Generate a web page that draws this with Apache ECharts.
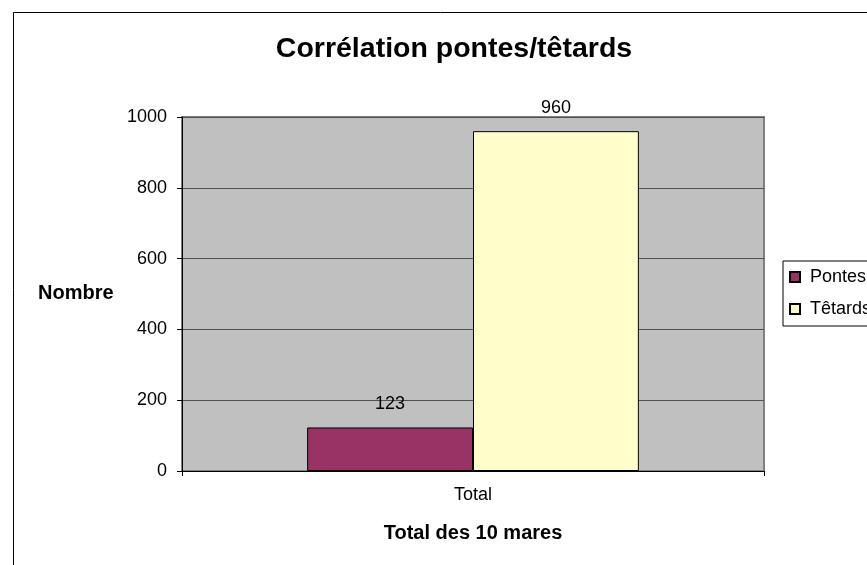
<!DOCTYPE html>
<html>
<head>
<meta charset="utf-8">
<script src="https://cdn.jsdelivr.net/npm/echarts@6/dist/echarts.min.js"></script>
<style>
html,body{margin:0;padding:0;background:#fff;}
#chart{width:867px;height:565px;}
</style>
</head>
<body>
<div id="chart"></div>
<script>
const categories = ['Total'];
const pontes = [123];
const tetards = [960];
const seriesNames = ['Pontes', 'Têtards'];
const yTicks = [0, 200, 400, 600, 800, 1000];

const FONT = "'Liberation Sans', Arial, sans-serif";
const chart = echarts.init(document.getElementById('chart'), null, {renderer: 'canvas'});
const option = {
  backgroundColor: '#ffffff',
  animation: false,
  textStyle: {fontFamily: FONT, color: '#000'},
  title: [
    {text: 'Corrélation pontes/têtards', left: 454, top: 35, padding: 0, textAlign: 'center',
     textStyle: {fontFamily: FONT, fontSize: 28.5, fontWeight: 'bold', color: '#000'}},
    {text: 'Nombre', left: 38, top: 283, padding: 0,
     textStyle: {fontFamily: FONT, fontSize: 20, fontWeight: 'bold', color: '#000'}},
    {text: 'Total des 10 mares', left: 473, top: 523, padding: 0, textAlign: 'center',
     textStyle: {fontFamily: FONT, fontSize: 20, fontWeight: 'bold', color: '#000'}}
  ],
  legend: {
    orient: 'vertical',
    left: 783, top: 261,
    padding: [7, 10, 8, 6],
    itemGap: 14,
    itemWidth: 10, itemHeight: 10,
    icon: 'rect',
    borderColor: '#000', borderWidth: 1,
    backgroundColor: '#fff',
    textStyle: {fontFamily: FONT, fontSize: 18, color: '#000', padding: [0, 0, 0, 5]},
    data: seriesNames
  },
  grid: {
    left: 182, right: 103, top: 117, bottom: 94,
    show: true, backgroundColor: '#C0C0C0', borderColor: '#808080', borderWidth: 2
  },
  xAxis: {
    type: 'category',
    data: categories,
    axisLine: {show: true, lineStyle: {color: '#000', width: 1}},
    axisTick: {show: true, length: 5, lineStyle: {color: '#000'}},
    axisLabel: {fontFamily: FONT, fontSize: 18, color: '#000', margin: 15}
  },
  yAxis: {
    type: 'value',
    min: yTicks[0], max: yTicks[yTicks.length - 1], interval: 200,
    axisLine: {show: true, lineStyle: {color: '#000', width: 1}},
    axisTick: {show: true, length: 5, lineStyle: {color: '#000'}},
    axisLabel: {fontFamily: FONT, fontSize: 18, color: '#000', margin: 15,
                formatter: function (v) { return String(v); }},
    splitLine: {show: true, lineStyle: {color: '#505050', width: 1}}
  },
  series: [
    {
      name: seriesNames[0], type: 'bar', data: pontes,
      barGap: '0%', barCategoryGap: '43%',
      itemStyle: {color: '#993366', borderColor: '#000', borderWidth: 1},
      label: {show: true, position: 'top', distance: 14, fontFamily: FONT, fontSize: 18, color: '#000'}
    },
    {
      name: seriesNames[1], type: 'bar', data: tetards,
      barGap: '0%', barCategoryGap: '43%',
      itemStyle: {color: '#FFFFCC', borderColor: '#000', borderWidth: 1},
      label: {show: true, position: 'top', distance: 14, fontFamily: FONT, fontSize: 18, color: '#000'}
    }
  ],
  graphic: [
    {type: 'rect', silent: true, z: 100,
     shape: {x: 13.5, y: 12.5, width: 1000, height: 1000},
     style: {fill: 'none', stroke: '#000', lineWidth: 1}}
  ]
};
chart.setOption(option);
</script>
</body>
</html>
